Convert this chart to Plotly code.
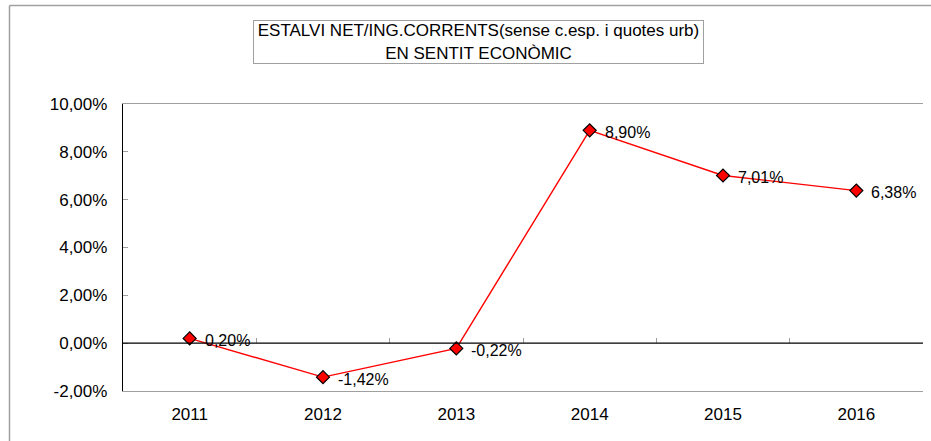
import plotly.graph_objects as go

years = ["2011", "2012", "2013", "2014", "2015", "2016"]
values = [0.20, -1.42, -0.22, 8.90, 7.01, 6.38]
labels = ["0,20%", "-1,42%", "-0,22%", "8,90%", "7,01%", "6,38%"]
ytick_vals = [-2, 0, 2, 4, 6, 8, 10]
ytick_text = ["-2,00%", "0,00%", "2,00%", "4,00%", "6,00%", "8,00%", "10,00%"]
title_lines = ["ESTALVI NET/ING.CORRENTS(sense c.esp. i quotes urb)", "EN SENTIT ECONÒMIC"]

FONT = "Liberation Sans, Arial, sans-serif"
W, H = 931, 441
ML, MR, MT, MB = 123, 8, 104, 50
pw = W - ML - MR
ph = H - MT - MB

xs = list(range(len(years)))

fig = go.Figure()
fig.add_trace(go.Scatter(
    x=xs, y=values, mode="lines+markers",
    line=dict(color="#ff0000", width=1.4),
    marker=dict(symbol="diamond", size=10, color="#ff0000",
                line=dict(color="black", width=1.2)),
    hoverinfo="skip", showlegend=False, cliponaxis=False,
))

for x, v, t in zip(xs, values, labels):
    fig.add_annotation(x=x, y=v, text=t, showarrow=False, xanchor="left",
                       yanchor="middle", xshift=13, yshift=-2,
                       font=dict(family=FONT, size=16, color="black"))

# title box
fig.add_annotation(
    xref="paper", yref="paper",
    x=(478.5 - ML) / pw, y=(MT + ph - 42) / ph,
    text="<br>".join(title_lines), showarrow=False,
    xanchor="center", yanchor="middle",
    width=447, height=40, bordercolor="#a0a0a0", borderwidth=1, borderpad=1,
    font=dict(family=FONT, size=17, color="black"), align="center",
)

# outer chart border (top and left edges visible)
top_y = (MT + ph - 5.5) / ph
left_x = (9.5 - ML) / pw
fig.add_shape(type="line", xref="paper", yref="paper",
              x0=left_x, x1=(W + 5 - ML) / pw, y0=top_y, y1=top_y,
              line=dict(color="#a0a0a0", width=1.5), layer="above")
fig.add_shape(type="line", xref="paper", yref="paper",
              x0=left_x, x1=left_x, y0=top_y, y1=(MT + ph - (H + 5)) / ph,
              line=dict(color="#a0a0a0", width=1.5), layer="above")

# zero line
fig.add_shape(type="line", xref="paper", yref="y", x0=0, x1=1, y0=0, y1=0,
              line=dict(color="black", width=1.2))

fig.update_layout(
    width=W, height=H,
    margin=dict(l=ML, r=MR, t=MT, b=MB, autoexpand=False),
    paper_bgcolor="white", plot_bgcolor="white",
    font=dict(family=FONT, size=17, color="black"),
    xaxis=dict(range=[-0.5, 5.5], tickvals=xs, ticktext=years,
               showgrid=False, zeroline=False, ticks="", showline=True,
               linecolor="#a0a0a0", mirror=True, linewidth=1.2,
               ticklabelstandoff=7,
               tickfont=dict(family=FONT, size=17, color="black"),
               fixedrange=True),
    xaxis2=dict(range=[-0.5, 5.5], overlaying="x", anchor="free",
                position=(0 - (-2)) / 12, side="bottom",
                tickvals=[x + 0.5 for x in xs[:-1]], showticklabels=False,
                ticks="inside", ticklen=5, tickcolor="#a0a0a0", tickwidth=1,
                showgrid=False, zeroline=False, showline=False),
    yaxis=dict(range=[-2, 10], tickvals=ytick_vals, ticktext=ytick_text,
               showgrid=False, zeroline=False, ticks="inside", ticklen=5,
               tickcolor="#a0a0a0", showline=True, linecolor="black",
               linewidth=1.2, ticklabelstandoff=11,
               tickfont=dict(family=FONT, size=17, color="black"),
               fixedrange=True),
)
# invisible trace to make xaxis2 render
fig.add_trace(go.Scatter(x=[0], y=[0], xaxis="x2", yaxis="y", mode="markers",
                         marker=dict(opacity=0), showlegend=False,
                         hoverinfo="skip"))

fig.write_html("out.html", config={"displayModeBar": False, "staticPlot": True},
               post_script="document.body.style.margin='0';document.body.style.overflow='hidden';")
